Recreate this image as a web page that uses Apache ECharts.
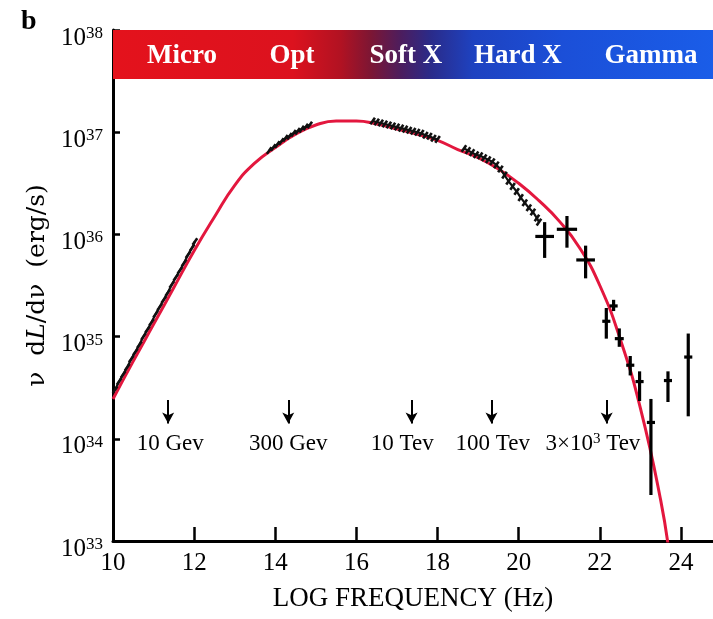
<!DOCTYPE html>
<html>
<head>
<meta charset="utf-8">
<script src="https://cdn.jsdelivr.net/npm/echarts@6/dist/echarts.min.js"></script>
<style>
  html, body { margin: 0; padding: 0; background: #fff; }
  #chart { width: 713px; height: 619px; }
</style>
</head>
<body>
<div id="chart"></div>
<script>
// Broadband spectrum: log10 of nu dL/dnu (erg/s) against log10 frequency (Hz)

// Synchrotron model curve
const modelFreq = [10, 10.5, 11, 11.5, 12, 12.5, 13, 13.5, 14, 14.5, 15, 15.5, 16, 16.5, 17,
  17.5, 18, 18.5, 19, 19.5, 20, 20.5, 21, 21.5, 22, 22.5, 23, 23.5, 23.72];
const modelLum = [34.39, 34.76, 35.12, 35.48, 35.84, 36.17, 36.48, 36.70, 36.85, 36.98, 37.07,
  37.11, 37.11, 37.08, 37.03, 36.98, 36.92, 36.83, 36.75, 36.64, 36.50, 36.33, 36.13, 35.87,
  35.50, 34.98, 34.30, 33.40, 32.85];

// Dense measurements (radio, IR/optical, UV/soft X, hard X)
const radioFreq = [10.05, 10.15, 10.25, 10.35, 10.45, 10.55, 10.65, 10.75, 10.85, 10.95, 11.05,
  11.15, 11.25, 11.35, 11.45, 11.55, 11.65, 11.75, 11.85, 11.95, 12.02];
const radioLum = [34.48, 34.56, 34.63, 34.70, 34.78, 34.85, 34.92, 35.00, 35.07, 35.14, 35.22,
  35.29, 35.36, 35.43, 35.51, 35.58, 35.65, 35.72, 35.80, 35.87, 35.93];

const optFreq = [13.85, 13.95, 14.05, 14.15, 14.25, 14.35, 14.45, 14.55, 14.65, 14.75, 14.85];
const optLum = [36.82, 36.85, 36.88, 36.91, 36.94, 36.96, 36.99, 37.01, 37.03, 37.05, 37.07];

const softFreq = [16.4, 16.5, 16.6, 16.7, 16.8, 16.9, 17.0, 17.1, 17.2, 17.3, 17.4, 17.5, 17.6,
  17.7, 17.8, 17.9, 18.0];
const softLum = [37.11, 37.10, 37.09, 37.08, 37.07, 37.06, 37.05, 37.04, 37.03, 37.02, 37.01,
  37.00, 36.99, 36.97, 36.96, 36.94, 36.93];

const hardFreq = [18.65, 18.75, 18.85, 18.95, 19.05, 19.15, 19.25, 19.35, 19.45, 19.55, 19.65,
  19.75, 19.85, 19.95, 20.05, 20.15, 20.25, 20.35, 20.45, 20.5];
const hardLum = [36.84, 36.82, 36.80, 36.78, 36.77, 36.75, 36.73, 36.71, 36.68, 36.64, 36.58,
  36.52, 36.47, 36.42, 36.36, 36.31, 36.26, 36.22, 36.16, 36.12];

// Gamma-ray points with error bars
const gammaFreq = [20.64, 21.19, 21.65, 22.16, 22.34, 22.48, 22.75, 22.98, 23.26, 23.68, 24.18];
const gammaLum = [35.98, 36.05, 35.75, 35.15, 35.30, 34.98, 34.72, 34.56, 34.16, 34.57, 34.80];
const gammaLow = [35.77, 35.87, 35.57, 34.98, 35.25, 34.90, 34.62, 34.37, 33.45, 34.36, 34.22];
const gammaHigh = [36.12, 36.18, 35.89, 35.28, 35.36, 35.08, 34.81, 34.66, 34.39, 34.66, 35.03];
const gammaFreqErr = [0.23, 0.25, 0.23, 0.10, 0.10, 0.11, 0.10, 0.10, 0.10, 0.10, 0.10];

// Electron energy markers
const energyFreq = [11.36, 14.32, 17.36, 19.33, 22.17];
const energyLabelFreq = [11.41, 14.32, 17.13, 19.36, 21.83];
const energyLabels = ['10 Gev', '300 Gev', '10 Tev', '100 Tev', '3×10{s|3} Tev'];

// Spectral band names
const bandNames = ['Micro', 'Opt', 'Soft X', 'Hard X', 'Gamma'];
const bandNameFreq = [11.70, 14.41, 17.22, 19.98, 23.26];

// Axis ranges and ticks
const freqMin = 10, freqMax = 24.79, freqStep = 2;
const lumMin = 33, lumMax = 38, lumStep = 1;
const bandBottom = 37.52;

const SERIF = '"Liberation Serif", "Times New Roman", serif';
const WIDE_SERIF = '"DejaVu Serif", "Liberation Serif", serif';
const pairs = (xs, ys) => xs.map((x, i) => [x, ys[i]]);

const chart = echarts.init(document.getElementById('chart'), null, { renderer: 'canvas' });

function measuredSeries(name, xs, ys) {
  return {
    name, type: 'line', data: pairs(xs, ys), z: 4,
    symbol: 'rect', symbolSize: [2.6, 8], symbolRotate: -35, showSymbol: true,
    itemStyle: { color: '#111' },
    lineStyle: { color: '#111', width: 2.2 },
    silent: true
  };
}

const option = {
  animation: false,
  backgroundColor: '#ffffff',
  grid: { left: 113, right: 0, top: 30, bottom: 78 },
  xAxis: {
    type: 'value', min: freqMin, max: freqMax, interval: freqStep,
    axisLine: { lineStyle: { color: '#000', width: 3 } },
    axisTick: { inside: true, length: 14, lineStyle: { color: '#000', width: 2.5 } },
    axisLabel: {
      color: '#000', fontFamily: SERIF, fontSize: 25, margin: 10,
      showMaxLabel: false,
      formatter: v => (Math.abs(v - Math.round(v)) < 1e-6 && Math.round(v) % 2 === 0 ? String(Math.round(v)) : '')
    },
    splitLine: { show: false },
    name: 'LOG FREQUENCY (Hz)', nameLocation: 'middle', nameGap: 44,
    nameTextStyle: { color: '#000', fontFamily: SERIF, fontSize: 27 }
  },
  yAxis: {
    type: 'value', min: lumMin, max: lumMax, interval: lumStep,
    axisLine: { show: true, lineStyle: { color: '#000', width: 3 } },
    axisTick: { show: true, inside: true, length: 7, lineStyle: { color: '#000', width: 2.5 } },
    axisLabel: {
      margin: 10, padding: [16, 0, 0, 0],
      formatter: v => '{b|10}{s|' + v + '}',
      rich: {
        b: { fontFamily: SERIF, fontSize: 25, color: '#000', lineHeight: 26 },
        s: { fontFamily: SERIF, fontSize: 17, color: '#000', lineHeight: 16, verticalAlign: 'top' }
      }
    },
    splitLine: { show: false },
    name: 'ν  d{i|L}/dν  (erg/s)', nameLocation: 'middle', nameRotate: 90, nameGap: 58,
    nameTextStyle: {
      color: '#000', fontFamily: WIDE_SERIF, fontSize: 25,
      rich: { i: { fontStyle: 'italic', fontFamily: WIDE_SERIF, fontSize: 25, color: '#000' } }
    }
  },
  graphic: [{
    type: 'text', left: 21, top: 8, z: 10,
    style: { text: 'b', font: 'bold 28px "Liberation Serif"', fill: '#000' }
  }],
  series: [
    {
      name: 'model', type: 'line', data: pairs(modelFreq, modelLum), z: 3,
      smooth: 0.5, symbol: 'none',
      lineStyle: { color: '#e3173e', width: 3 },
      silent: true,
      markArea: {
        silent: true,
        itemStyle: {
          color: {
            type: 'linear', x: 0, y: 0, x2: 1, y2: 0,
            colorStops: [
              { offset: 0.00, color: '#e4121c' },
              { offset: 0.30, color: '#dc121e' },
              { offset: 0.38, color: '#b11222' },
              { offset: 0.43, color: '#7c1634' },
              { offset: 0.48, color: '#4c1d5e' },
              { offset: 0.53, color: '#2a2b8a' },
              { offset: 0.60, color: '#1e42c0' },
              { offset: 0.75, color: '#1b4fd8' },
              { offset: 1.00, color: '#1a5de8' }
            ]
          }
        },
        data: [[{ coord: [freqMin, bandBottom] }, { coord: [freqMax, lumMax] }]]
      },
      markLine: {
        silent: true, animation: false,
        label: { show: false },
        lineStyle: { color: '#000', width: 2, type: 'solid' },
        symbol: ['none', 'arrow'], symbolSize: [9, 11],
        data: energyFreq.map(x => [{ coord: [x, 34.38] }, { coord: [x, 34.15] }])
      }
    },
    measuredSeries('radio', radioFreq, radioLum),
    measuredSeries('optical', optFreq, optLum),
    measuredSeries('soft', softFreq, softLum),
    measuredSeries('hard', hardFreq, hardLum),
    {
      name: 'gamma', type: 'custom', z: 5, silent: true,
      data: gammaFreq.map((x, i) => [x, gammaLum[i], gammaLow[i], gammaHigh[i], gammaFreqErr[i]]),
      renderItem: (params, api) => {
        const x = api.value(0), y = api.value(1);
        const lo = api.coord([x, api.value(2)]);
        const hi = api.coord([x, api.value(3)]);
        const l = api.coord([x - api.value(4), y]);
        const r = api.coord([x + api.value(4), y]);
        const st = { stroke: '#000', lineWidth: 3.2 };
        return {
          type: 'group',
          children: [
            { type: 'line', shape: { x1: lo[0], y1: lo[1], x2: hi[0], y2: hi[1] }, style: st },
            { type: 'line', shape: { x1: l[0], y1: l[1], x2: r[0], y2: r[1] }, style: st }
          ]
        };
      }
    },
    {
      name: 'energies', type: 'scatter', z: 6, silent: true,
      symbol: 'circle', symbolSize: 1, itemStyle: { color: 'rgba(0,0,0,0)', opacity: 1 },
      data: energyLabelFreq.map((x, i) => [x, 33.95, energyLabels[i]]),
      label: {
        show: true, position: 'inside', color: '#000', opacity: 1,
        formatter: p => '{t|' + p.data[2].replace('{s|3}', '}{s|3}{t|') + '}',
        rich: {
          t: { fontFamily: SERIF, fontSize: 23, color: '#000', lineHeight: 24 },
          s: { fontFamily: SERIF, fontSize: 15, color: '#000', lineHeight: 14, verticalAlign: 'top' }
        }
      }
    },
    {
      name: 'bands', type: 'scatter', z: 7, silent: true,
      symbol: 'circle', symbolSize: 1, itemStyle: { color: 'rgba(0,0,0,0)', opacity: 1 },
      data: bandNameFreq.map((x, i) => [x, 37.75, bandNames[i]]),
      label: {
        show: true, position: 'inside', formatter: p => p.data[2], opacity: 1,
        fontFamily: SERIF, fontWeight: 'bold', fontSize: 27, color: '#fff'
      }
    }
  ]
};

chart.setOption(option);
</script>
</body>
</html>
